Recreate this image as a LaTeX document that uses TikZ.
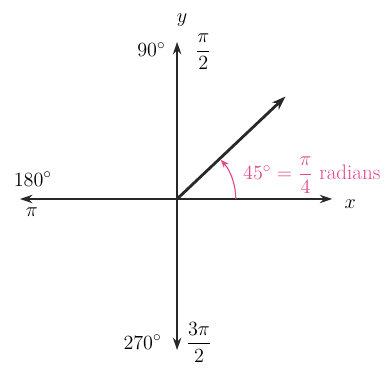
\documentclass[tikz,border=0pt]{standalone}
\usepackage{amsmath,amssymb}
\usepackage{tikz}
\usetikzlibrary{positioning,arrows.meta}
\definecolor{anglepink}{RGB}{228,70,135}
\definecolor{axisgray}{RGB}{40,40,40}

\begin{document}
\begin{tikzpicture}[font=\fontsize{15}{18}\selectfont,
    axis/.style={-{Stealth[length=9pt,width=6pt]}, line width=1.3pt, axisgray},
    ray/.style={-{Stealth[length=10pt,width=7pt]}, line width=2pt, axisgray},
    lbl/.style={inner sep=1pt}]
        \useasboundingbox (-4.45,-4.225) rectangle (5.3,5.0);
        \coordinate (o) at (0,0);
        \coordinate (xpos) at (3.9,0);
        \coordinate (xneg) at (-3.95,0);
        \coordinate (ypos) at (0,3.95);
        \coordinate (yneg) at (0,-3.8);
        \coordinate (tip) at (2.725,2.575);
        % axes
        \draw[axis] (o) -- (xpos);
        \draw[axis] (o) -- (xneg);
        \draw[axis] (o) -- (ypos);
        \draw[axis] (o) -- (yneg);
        % the 45 degree ray
        \draw[ray] (o) -- (tip);
        % angle mark
        \coordinate (arcstart) at (1.475,0);
        \draw[anglepink, line width=0.8pt, -{Stealth[length=6pt,width=4.5pt]}] (arcstart) arc[start angle=0, end angle=42, radius=1.475];
        % labels
        \node[lbl] (ylab) at (0.125,4.5) {$y$};
        \node[lbl] (xlab) at (4.35,-0.12) {$x$};
        \node[lbl, anchor=east] (deg90) at (-0.25,3.75) {$90^\circ$};
        \node[lbl] (rad90) at (0.66,3.7) {$\dfrac{\pi}{2}$};
        \node[lbl] (deg180) at (-3.625,0.5) {$180^\circ$};
        \node[lbl] (rad180) at (-3.65,-0.33) {$\pi$};
        \node[lbl, anchor=east] (deg270) at (-0.35,-3.6) {$270^\circ$};
        \node[lbl] (rad270) at (0.55,-3.6) {$\dfrac{3\pi}{2}$};
        \node[lbl, anchor=west, text=anglepink] (anglab) at (1.62,0.6) {$45^\circ = \dfrac{\pi}{4}$ radians};
      \end{tikzpicture}
\end{document}
